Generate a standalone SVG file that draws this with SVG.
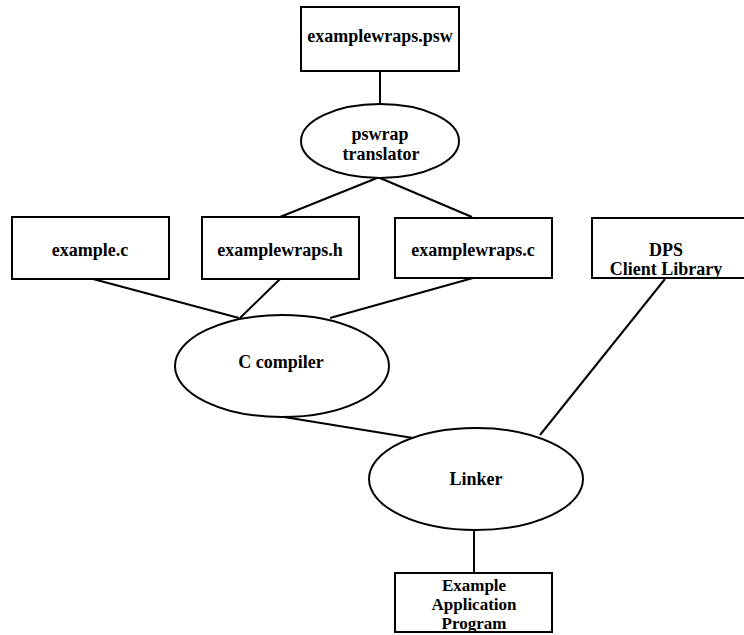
<svg xmlns="http://www.w3.org/2000/svg" width="744" height="635" viewBox="0 0 744 635">
<style>
.n{fill:#fff;stroke:#000;stroke-width:2}
.e{stroke:#000;stroke-width:2;fill:none}
text{font-family:"Liberation Serif","Times New Roman",serif;font-size:18px;font-weight:bold;text-anchor:middle;fill:#000}
.s{font-size:17px}
</style>
<rect width="744" height="635" fill="#fff"/>
<g id="connectors">
<line class="e" x1="380" y1="71" x2="380" y2="104"/>
<line class="e" x1="377" y1="178" x2="280" y2="217"/>
<line class="e" x1="380" y1="178" x2="472" y2="217"/>
<line class="e" x1="93" y1="279" x2="239" y2="318"/>
<line class="e" x1="280" y1="279" x2="240" y2="318"/>
<line class="e" x1="473" y1="278" x2="330" y2="318"/>
<line class="e" x1="284" y1="417" x2="413" y2="438"/>
<line class="e" x1="665" y1="279" x2="540" y2="435"/>
<line class="e" x1="474" y1="530" x2="474" y2="573"/>
</g>
<g id="psw">
<rect class="n" x="301" y="7" width="158" height="64"/>
<text x="380" y="42">examplewraps.psw</text>
</g>
<g id="pswrap">
<ellipse class="n" cx="380" cy="141" rx="79" ry="37"/>
<text x="380" y="140">pswrap</text>
<text x="381" y="160">translator</text>
</g>
<g id="examplec">
<rect class="n" x="12" y="217" width="157" height="62"/>
<text x="90" y="256">example.c</text>
</g>
<g id="wrapsh">
<rect class="n" x="202" y="217" width="157" height="62"/>
<text x="280" y="256">examplewraps.h</text>
</g>
<g id="wrapsc">
<rect class="n" x="395" y="218" width="157" height="60"/>
<text x="473" y="256">examplewraps.c</text>
</g>
<g id="dps">
<rect class="n" x="592" y="218" width="160" height="60"/>
<text x="666" y="256">DPS</text>
<text x="666" y="275">Client Library</text>
</g>
<g id="ccompiler">
<ellipse class="n" cx="282" cy="366" rx="107" ry="51"/>
<text x="281" y="368">C compiler</text>
</g>
<g id="linker">
<ellipse class="n" cx="476" cy="479" rx="107" ry="51"/>
<text x="476" y="485">Linker</text>
</g>
<g id="program">
<rect class="n" x="395" y="573" width="157" height="59"/>
<text class="s" x="474" y="591">Example</text>
<text class="s" x="474" y="610">Application</text>
<text class="s" x="474" y="629">Program</text>
</g>
</svg>
